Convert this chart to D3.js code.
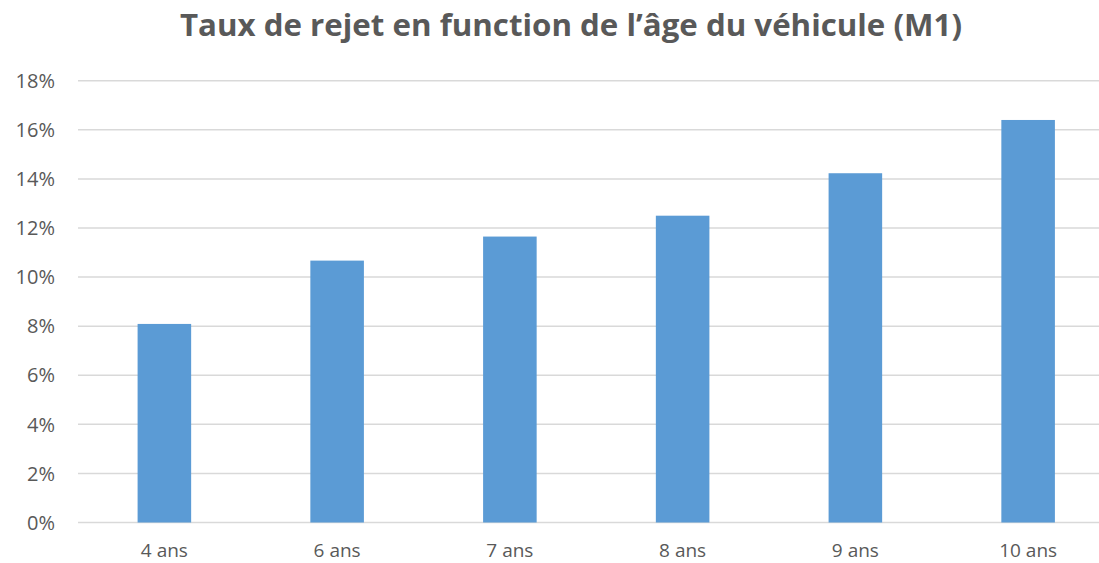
<!DOCTYPE html>
<html>
<head>
<meta charset="utf-8">
<script src="https://cdn.jsdelivr.net/npm/d3@7"></script>
<style>
  body { margin: 0; background: #fff; }
  text { font-family: "Open Sans", "Liberation Sans", sans-serif; }
</style>
</head>
<body>
<svg id="chart" width="1099" height="563"></svg>
<script>
let svgWidth = 1099;
let svgHeight = 563;

// data
let categories = ["4 ans", "6 ans", "7 ans", "8 ans", "9 ans", "10 ans"];
let rejectRates = [0.0809, 0.1067, 0.1165, 0.1250, 0.1423, 0.1640];
let yTicks = [0, 0.02, 0.04, 0.06, 0.08, 0.10, 0.12, 0.14, 0.16, 0.18];
let title = "Taux de rejet en function de l’âge du véhicule (M1)";

let svg = d3.select("#chart");

let xMap = d3.scaleBand()
    .domain(categories)
    .range([78, 1114.5])
    .paddingInner(0.69)
    .paddingOuter(0.345);

let yMap = d3.scaleLinear()
    .domain([0, 0.18])
    .range([522.5, 80.7]);

// gridlines
svg.append("g")
    .selectAll("line")
    .data(yTicks)
    .enter().append("line")
    .attr("x1", 78)
    .attr("x2", 1114)
    .attr("y1", d => yMap(d))
    .attr("y2", d => yMap(d))
    .attr("stroke", "#d9d9d9")
    .attr("stroke-width", 1.5);

// y labels
svg.append("g")
    .selectAll("text")
    .data(yTicks)
    .enter().append("text")
    .attr("x", 55)
    .attr("y", d => yMap(d))
    .attr("dy", "0.36em")
    .attr("text-anchor", "end")
    .attr("fill", "#595959")
    .style("font-size", "20px")
    .text(d => d3.format(".0%")(d));

// bars
svg.append("g")
    .selectAll("rect")
    .data(rejectRates)
    .enter().append("rect")
    .attr("x", (d, i) => xMap(categories[i]))
    .attr("y", d => yMap(d))
    .attr("width", xMap.bandwidth())
    .attr("height", d => yMap(0) - yMap(d))
    .attr("fill", "#5b9bd5");

// x labels
svg.append("g")
    .selectAll("text")
    .data(categories)
    .enter().append("text")
    .attr("x", d => xMap(d) + xMap.bandwidth() / 2)
    .attr("y", 557)
    .attr("text-anchor", "middle")
    .attr("fill", "#595959")
    .style("font-size", "19px")
    .text(d => d);

// title
svg.append("text")
    .attr("x", 571)
    .attr("y", 36)
    .attr("text-anchor", "middle")
    .attr("fill", "#595959")
    .style("font-size", "30px")
    .style("font-weight", "bold")
    .attr("textLength", 782)
    .attr("lengthAdjust", "spacingAndGlyphs")
    .text(title);
</script>
</body>
</html>
